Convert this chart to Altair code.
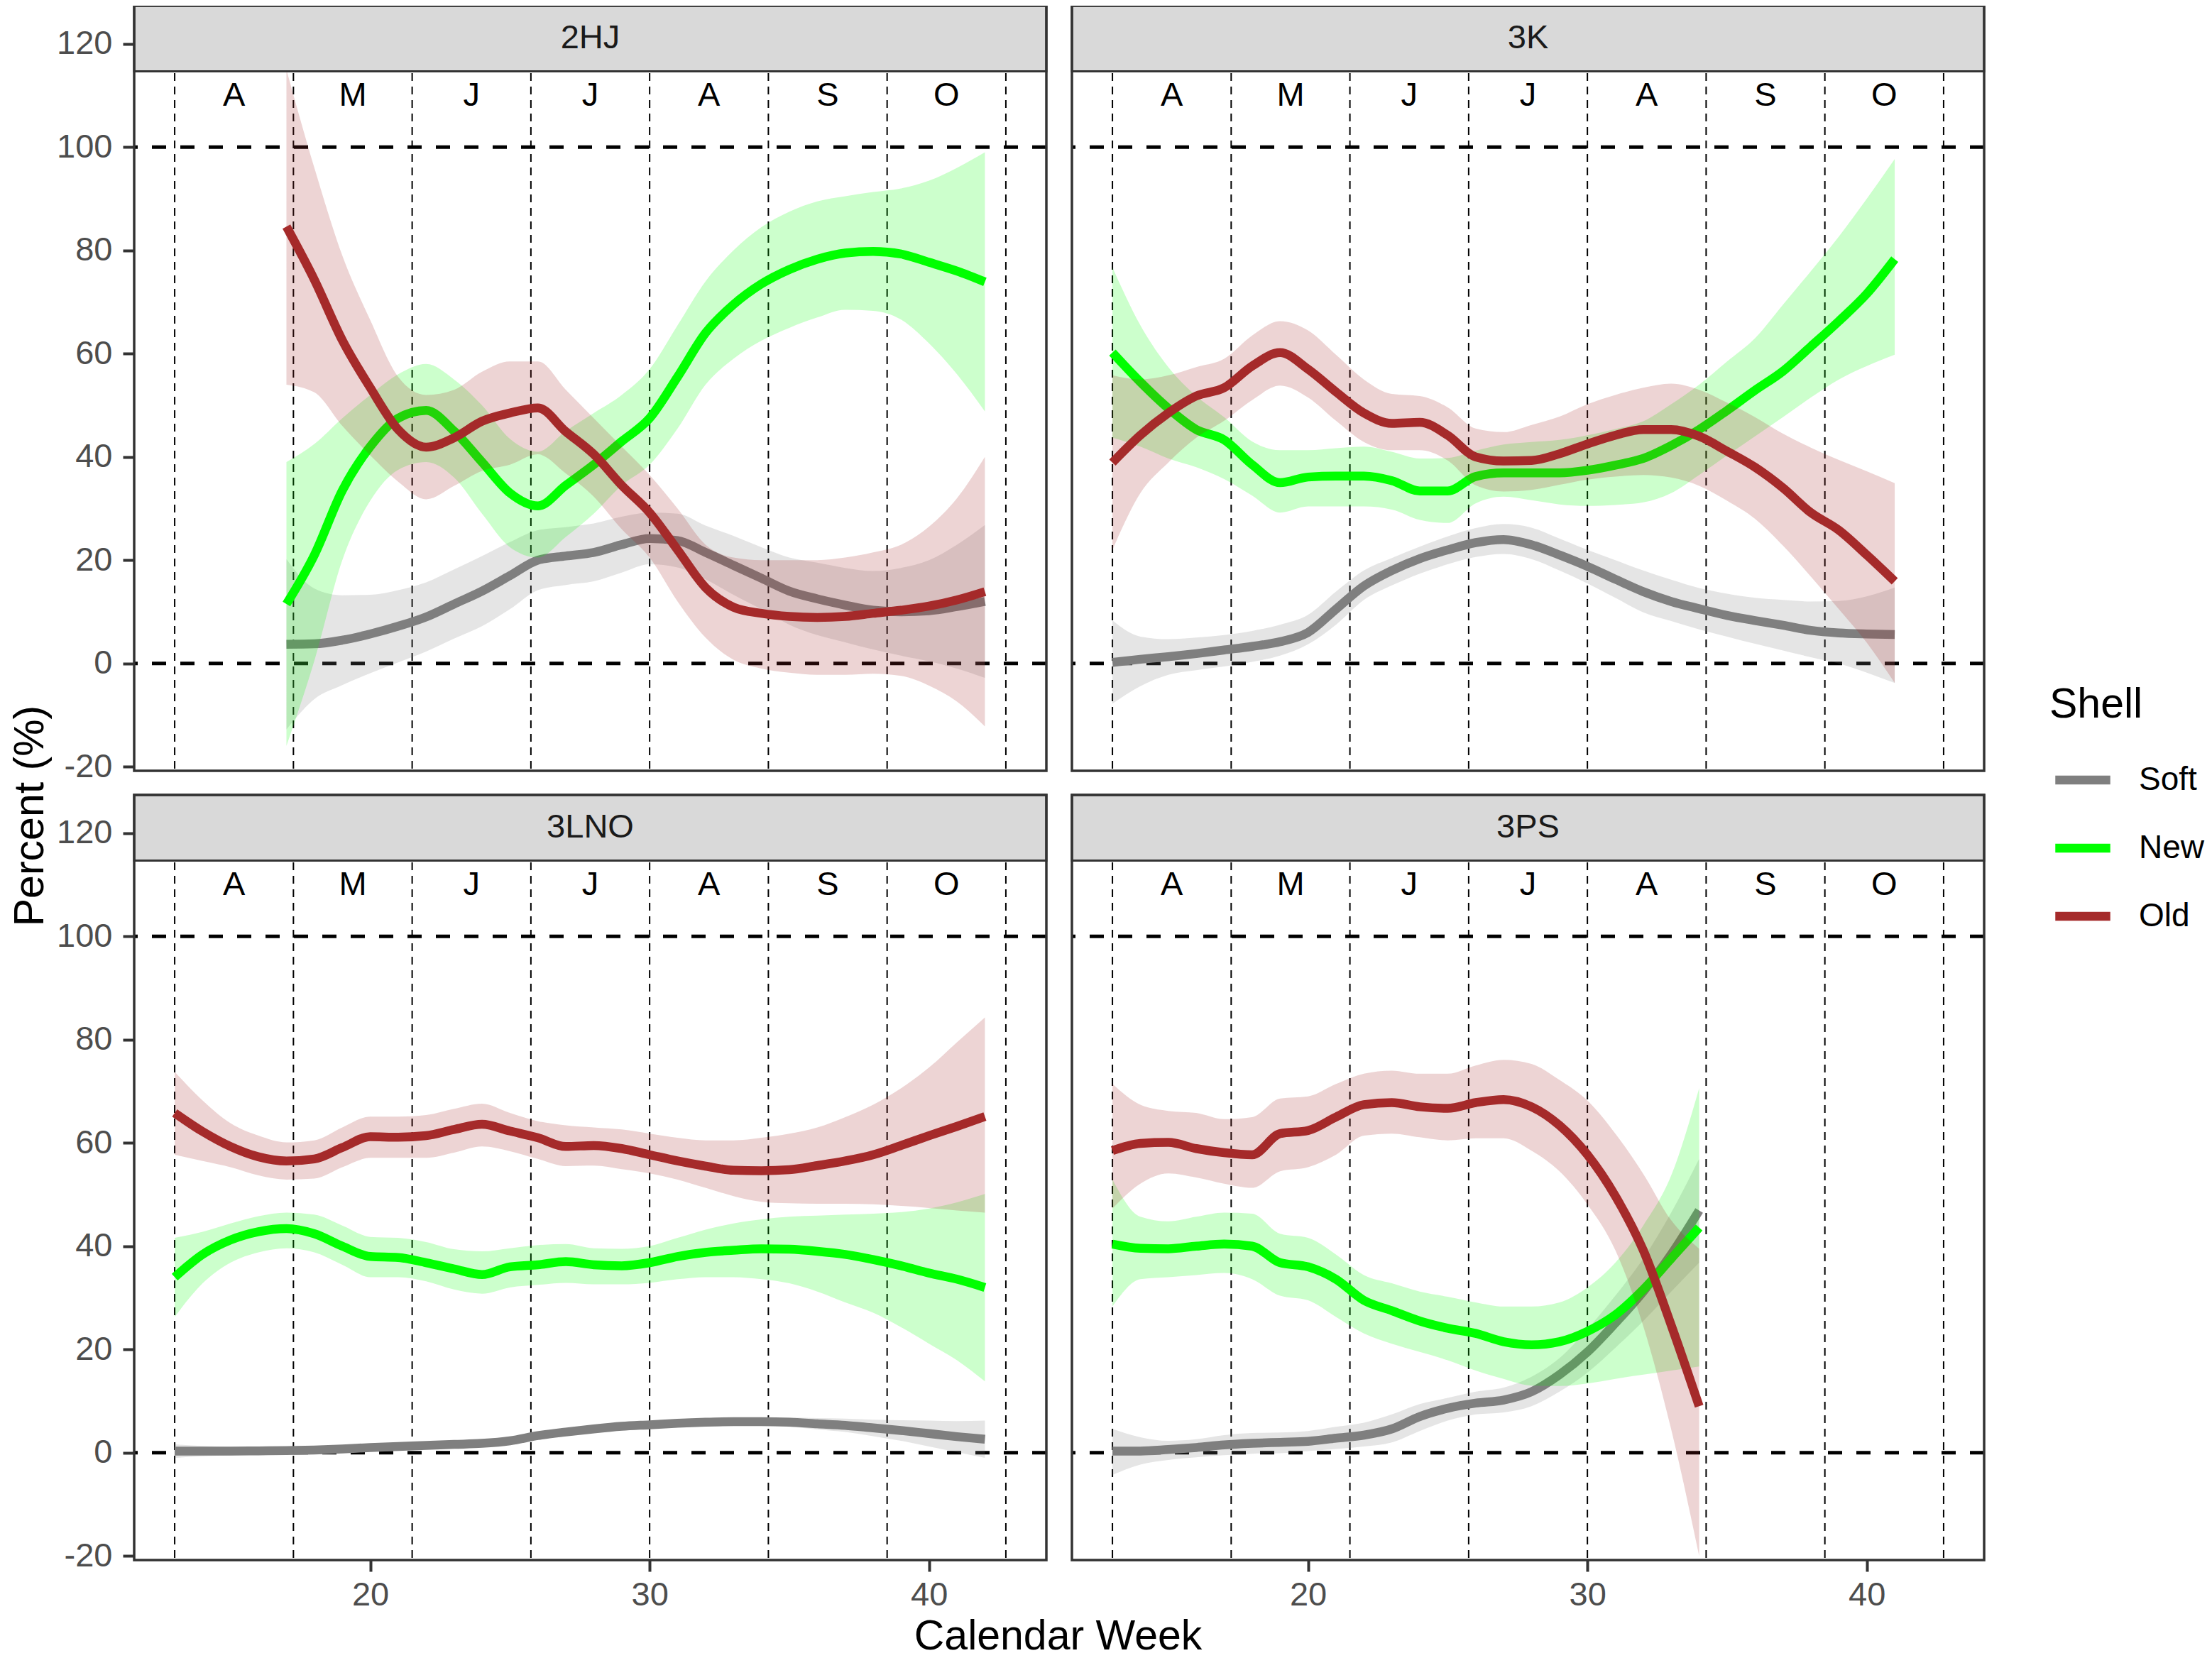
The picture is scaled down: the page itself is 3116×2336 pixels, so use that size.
import altair as alt
import pandas as pd

FONT = "Liberation Sans"

SHELLS = ["Soft", "New", "Old"]
SHELL_COLORS = ["#7F7F7F", "#00FF00", "#A52A2A"]
MONTH_LABELS = ["A", "M", "J", "J", "A", "S", "O"]
MONTH_EDGES = [13, 17.25, 21.5, 25.75, 30, 34.25, 38.5, 42.75]
X_TICKS = [20, 30, 40]
Y_TICKS = [-20, 0, 20, 40, 60, 80, 100, 120]
REF_LEVELS = [0, 100]

# ---------------- 2HJ ----------------
WEEKS_2HJ = list(range(17, 43))
SOFT_FIT_2HJ = [3.7, 3.8, 4.5, 5.7, 7.2, 9.0, 11.5, 14.0, 17.0, 20.0, 20.8, 21.5, 23.0, 24.2, 23.8, 21.5, 19.0, 16.5, 14.0, 12.5, 11.3, 10.3, 10.0, 10.2, 11.0, 12.0]
SOFT_LO_2HJ = [-12.8, -6.9, -4.2, -1.9, 0.2, 2.3, 4.8, 7.2, 10.5, 14.2, 15.2, 15.9, 17.6, 19.2, 18.6, 16.3, 13.3, 10.5, 7.5, 5.5, 4.1, 2.7, 1.5, 0.4, -1.0, -2.8]
SOFT_HI_2HJ = [20.2, 14.5, 13.2, 13.3, 14.2, 15.7, 18.2, 20.8, 23.5, 25.8, 26.4, 27.1, 28.4, 29.2, 29.0, 26.7, 24.7, 22.5, 20.5, 19.5, 18.5, 17.9, 18.5, 20.0, 23.0, 26.8]
NEW_FIT_2HJ = [11.5, 21.0, 33.5, 42.0, 47.5, 49.0, 45.0, 39.0, 33.0, 30.5, 34.5, 38.5, 43.0, 47.5, 55.5, 64.0, 69.5, 73.5, 76.3, 78.3, 79.5, 79.8, 79.3, 77.7, 76.0, 73.9]
NEW_LO_2HJ = [-16.0, 0.5, 20.0, 31.5, 37.5, 39.0, 36.0, 29.0, 22.5, 20.5, 24.5, 29.0, 34.5, 38.5, 45.5, 54.0, 59.0, 62.5, 65.0, 67.0, 68.5, 68.3, 66.6, 62.0, 56.0, 48.8]
NEW_HI_2HJ = [39.0, 42.5, 47.5, 52.0, 56.0, 58.0, 55.0, 50.0, 43.5, 41.0, 45.0, 48.5, 52.0, 57.0, 65.5, 74.0, 80.0, 84.5, 87.5, 89.5, 90.5, 91.3, 92.0, 93.5, 96.0, 99.0]
OLD_FIT_2HJ = [84.6, 74.3, 62.6, 53.4, 45.3, 41.9, 43.7, 46.9, 48.5, 49.5, 44.9, 40.5, 34.5, 29.2, 22.0, 14.7, 10.9, 9.7, 9.1, 8.9, 9.1, 9.7, 10.3, 11.1, 12.3, 13.9]
OLD_LO_2HJ = [54.0, 52.5, 46.0, 40.3, 35.2, 31.8, 34.4, 37.3, 38.5, 40.5, 36.8, 32.3, 26.0, 20.5, 12.0, 5.0, 0.7, -1.0, -1.8, -2.2, -2.2, -2.0, -2.4, -4.3, -7.4, -12.2]
OLD_HI_2HJ = [115.0, 96.0, 79.0, 66.5, 55.5, 52.0, 53.0, 56.5, 58.5, 58.5, 53.0, 47.5, 42.0, 36.5, 30.0, 23.0, 20.5, 20.0, 20.0, 20.0, 20.5, 21.5, 23.0, 26.5, 32.0, 40.0]

# ---------------- 3K ----------------
WEEKS_3K = list(range(13, 42))
SOFT_FIT_3K = [0.2, 0.8, 1.3, 1.9, 2.6, 3.3, 4.2, 6.0, 10.5, 15.0, 18.0, 20.3, 22.0, 23.4, 24.0, 23.0, 21.0, 18.8, 16.3, 13.9, 12.0, 10.6, 9.3, 8.3, 7.4, 6.4, 5.9, 5.7, 5.6]
SOFT_LO_3K = [-7.8, -4.4, -2.2, -1.3, -0.6, 0.3, 1.5, 3.7, 7.5, 12.3, 15.1, 17.4, 19.2, 20.6, 21.2, 20.2, 18.0, 15.5, 12.7, 9.9, 8.2, 6.6, 5.2, 3.8, 2.5, 1.2, 0.0, -1.8, -3.8]
SOFT_HI_3K = [8.3, 5.2, 4.7, 5.0, 5.5, 6.3, 7.5, 9.4, 13.9, 18.0, 20.4, 22.6, 24.6, 26.2, 27.0, 26.3, 24.2, 22.0, 20.0, 18.0, 16.2, 14.6, 13.5, 12.7, 12.3, 12.0, 12.1, 13.0, 14.7]
NEW_FIT_3K = [60.2, 54.5, 49.4, 45.3, 43.3, 38.5, 35.0, 36.1, 36.3, 36.3, 35.4, 33.4, 33.4, 36.2, 36.9, 36.9, 36.9, 37.4, 38.4, 39.7, 42.2, 45.3, 49.0, 52.9, 56.6, 61.4, 66.3, 71.6, 78.3]
NEW_LO_3K = [43.7, 42.0, 39.7, 38.0, 35.7, 32.5, 29.2, 30.4, 30.4, 30.4, 29.8, 27.8, 27.2, 31.0, 32.3, 31.6, 30.8, 30.5, 30.7, 31.2, 33.0, 36.5, 40.3, 44.0, 47.7, 51.5, 55.0, 57.6, 59.8]
NEW_HI_3K = [76.7, 65.5, 57.4, 51.8, 47.7, 43.0, 41.3, 41.3, 41.7, 42.0, 41.0, 39.7, 39.8, 41.2, 42.4, 42.9, 43.3, 44.2, 45.4, 46.9, 50.2, 54.0, 58.5, 63.0, 69.5, 76.0, 82.7, 90.0, 97.7]
OLD_FIT_3K = [38.9, 44.2, 48.5, 51.8, 53.4, 57.6, 60.2, 57.0, 52.6, 48.5, 46.5, 46.7, 44.2, 40.0, 39.2, 39.3, 40.6, 42.5, 44.2, 45.3, 45.3, 44.0, 41.1, 38.0, 34.0, 29.2, 25.8, 21.0, 15.9]
OLD_LO_3K = [22.0, 33.0, 38.9, 43.7, 47.0, 51.0, 53.8, 51.5, 47.0, 42.9, 41.3, 41.3, 39.3, 34.5, 33.3, 33.6, 34.6, 35.6, 36.2, 36.5, 36.0, 34.4, 31.5, 28.0, 22.8, 16.8, 10.5, 4.0, -3.8]
OLD_HI_3K = [55.8, 55.0, 55.8, 57.4, 59.0, 63.5, 66.3, 64.5, 59.8, 55.0, 52.2, 51.8, 49.6, 45.5, 44.8, 46.2, 47.8, 50.2, 52.0, 53.4, 54.2, 53.0, 50.5, 47.7, 44.5, 41.8, 39.4, 37.2, 34.9]

# ---------------- 3LNO ----------------
WEEKS_3LNO = list(range(13, 43))
SOFT_FIT_3LNO = [0.3, 0.3, 0.3, 0.35, 0.4, 0.5, 0.7, 1.0, 1.2, 1.4, 1.6, 1.8, 2.3, 3.3, 4.0, 4.6, 5.1, 5.4, 5.7, 5.9, 6.0, 6.0, 5.9, 5.6, 5.3, 4.8, 4.3, 3.7, 3.1, 2.6]
SOFT_LO_3LNO = [-1.0, -0.7, -0.5, -0.35, -0.2, -0.1, 0.1, 0.4, 0.6, 0.8, 1.0, 1.2, 1.7, 2.7, 3.4, 4.0, 4.5, 4.7, 4.9, 5.1, 5.2, 5.2, 5.0, 4.5, 4.0, 3.2, 2.3, 1.2, 0.1, -1.0]
SOFT_HI_3LNO = [1.6, 1.3, 1.1, 1.05, 1.0, 1.1, 1.3, 1.6, 1.8, 2.0, 2.2, 2.4, 2.9, 3.9, 4.6, 5.2, 5.7, 6.1, 6.5, 6.7, 6.8, 6.8, 6.8, 6.7, 6.6, 6.4, 6.3, 6.2, 6.1, 6.2]
NEW_FIT_3LNO = [34.0, 38.4, 41.2, 42.8, 43.4, 42.4, 40.0, 38.0, 37.8, 36.8, 35.6, 34.5, 36.0, 36.4, 37.0, 36.4, 36.2, 36.8, 38.0, 38.8, 39.2, 39.5, 39.4, 39.0, 38.4, 37.4, 36.2, 34.8, 33.6, 32.0]
NEW_LO_3LNO = [26.3, 32.8, 36.8, 38.8, 39.6, 38.8, 36.4, 34.0, 34.0, 33.2, 31.6, 30.8, 32.0, 32.5, 32.9, 32.6, 32.6, 32.9, 33.6, 34.0, 34.0, 33.6, 32.8, 31.2, 29.1, 27.1, 24.3, 21.1, 17.9, 13.8]
NEW_HI_3LNO = [41.6, 42.8, 44.4, 45.8, 46.5, 46.1, 44.0, 41.8, 41.6, 40.8, 39.4, 39.0, 39.6, 40.2, 40.4, 39.6, 39.5, 40.0, 41.6, 43.2, 44.4, 45.2, 45.7, 45.9, 46.1, 46.3, 46.6, 47.3, 48.5, 50.1]
OLD_FIT_3LNO = [65.8, 62.2, 59.3, 57.3, 56.5, 56.9, 59.1, 61.2, 61.1, 61.4, 62.6, 63.6, 62.3, 61.0, 59.3, 59.5, 58.9, 57.7, 56.5, 55.5, 54.7, 54.6, 54.8, 55.6, 56.5, 57.7, 59.5, 61.4, 63.2, 65.1]
OLD_LO_3LNO = [57.7, 56.5, 55.3, 53.7, 52.9, 53.1, 55.3, 57.1, 57.1, 57.1, 58.1, 59.3, 58.4, 56.9, 55.5, 55.6, 54.9, 54.1, 52.9, 51.3, 49.7, 48.6, 48.3, 48.2, 48.2, 48.1, 47.8, 47.4, 46.9, 46.5]
OLD_HI_3LNO = [73.8, 68.2, 63.8, 61.4, 60.1, 60.5, 63.0, 65.1, 65.1, 65.4, 66.6, 67.6, 65.8, 64.2, 63.4, 63.0, 62.6, 61.8, 61.0, 60.5, 60.5, 61.0, 61.8, 63.0, 65.0, 67.4, 70.6, 74.6, 79.5, 84.3]

# ---------------- 3PS ----------------
WEEKS_3PS = list(range(13, 35))
SOFT_FIT_3PS = [0.3, 0.3, 0.6, 1.0, 1.5, 1.8, 2.0, 2.2, 2.8, 3.4, 4.6, 7.0, 8.6, 9.6, 10.2, 11.8, 15.1, 19.5, 25.1, 31.2, 38.4, 46.9]
SOFT_LO_3PS = [-4.3, -2.3, -1.4, -0.9, -0.5, -0.2, -0.1, 0.3, 0.7, 1.2, 2.0, 4.2, 6.2, 7.4, 7.8, 9.0, 11.8, 15.5, 20.3, 25.5, 31.2, 36.8]
SOFT_HI_3PS = [4.6, 3.0, 2.3, 2.6, 3.4, 3.8, 3.9, 4.2, 5.0, 5.8, 7.4, 9.4, 10.6, 11.8, 12.6, 14.7, 18.3, 23.9, 30.4, 37.6, 46.5, 56.9]
NEW_FIT_3PS = [40.4, 39.6, 39.5, 40.0, 40.4, 40.0, 36.8, 36.0, 33.6, 29.5, 27.5, 25.5, 24.1, 23.1, 21.5, 20.9, 21.5, 23.5, 26.7, 31.6, 37.6, 43.6]
NEW_LO_3PS = [28.3, 33.6, 34.0, 34.4, 34.8, 33.6, 30.4, 29.5, 26.3, 23.1, 21.1, 19.5, 17.9, 15.9, 14.3, 13.0, 12.9, 13.4, 14.3, 15.1, 15.9, 16.7]
NEW_HI_3PS = [52.9, 45.7, 44.8, 45.7, 46.5, 46.3, 42.4, 41.6, 38.4, 34.4, 32.8, 31.2, 30.2, 29.1, 28.3, 28.3, 29.1, 32.0, 36.8, 44.0, 53.7, 70.6]
OLD_FIT_3PS = [58.5, 59.9, 60.1, 58.9, 58.1, 57.7, 61.8, 62.4, 65.0, 67.4, 67.8, 67.0, 66.7, 67.8, 68.4, 67.0, 63.4, 57.7, 49.7, 39.2, 24.7, 9.0]
OLD_LO_3PS = [47.3, 52.1, 54.1, 53.3, 52.1, 51.3, 54.5, 55.3, 57.7, 61.4, 61.8, 61.1, 60.5, 60.9, 60.9, 58.5, 54.5, 48.1, 39.2, 24.5, 4.5, -20.0]
OLD_HI_3PS = [71.4, 67.4, 66.2, 65.8, 64.6, 65.0, 68.6, 69.0, 71.4, 73.4, 74.0, 73.4, 73.4, 75.0, 76.1, 75.3, 72.2, 68.2, 61.8, 54.0, 45.0, 39.5]

PANELS = {
    "2HJ": (WEEKS_2HJ, {"Soft": (SOFT_FIT_2HJ, SOFT_LO_2HJ, SOFT_HI_2HJ),
                        "New": (NEW_FIT_2HJ, NEW_LO_2HJ, NEW_HI_2HJ),
                        "Old": (OLD_FIT_2HJ, OLD_LO_2HJ, OLD_HI_2HJ)}),
    "3K": (WEEKS_3K, {"Soft": (SOFT_FIT_3K, SOFT_LO_3K, SOFT_HI_3K),
                      "New": (NEW_FIT_3K, NEW_LO_3K, NEW_HI_3K),
                      "Old": (OLD_FIT_3K, OLD_LO_3K, OLD_HI_3K)}),
    "3LNO": (WEEKS_3LNO, {"Soft": (SOFT_FIT_3LNO, SOFT_LO_3LNO, SOFT_HI_3LNO),
                          "New": (NEW_FIT_3LNO, NEW_LO_3LNO, NEW_HI_3LNO),
                          "Old": (OLD_FIT_3LNO, OLD_LO_3LNO, OLD_HI_3LNO)}),
    "3PS": (WEEKS_3PS, {"Soft": (SOFT_FIT_3PS, SOFT_LO_3PS, SOFT_HI_3PS),
                        "New": (NEW_FIT_3PS, NEW_LO_3PS, NEW_HI_3PS),
                        "Old": (OLD_FIT_3PS, OLD_LO_3PS, OLD_HI_3PS)}),
}

# ---------------- layout constants ----------------
XMIN, XMAX = 11.55, 44.2
YMIN, YMAX = -20.8, 127.4
STRIP_LO = 114.7
PW, PH = 1285, 1078
SMALL = 47
BIG = 59
LINE_W = 12.5

color_scale = alt.Scale(domain=SHELLS, range=SHELL_COLORS)
shell_legend = alt.Legend(
    orient="none", legendX=2698, legendY=956, padding=0,
    title="Shell", titleFont=FONT, titleFontSize=BIG, titleFontWeight="normal",
    titleColor="black", titlePadding=31,
    labelFont=FONT, labelFontSize=46, labelColor="black", labelOffset=34,
    symbolType="stroke", symbolStrokeWidth=LINE_W, symbolSize=6000, symbolOffset=2,
    rowPadding=26,
)


def make_panel(name, show_x, show_y, x_title=False, y_title=False):
    weeks, series = PANELS[name]
    xs = alt.Scale(domain=[XMIN, XMAX], nice=False, zero=False)
    ys = alt.Scale(domain=[YMIN, YMAX], nice=False, zero=False)

    common = dict(labelFont=FONT, labelFontSize=SMALL, labelColor="#4D4D4D",
                  tickColor="#333333", tickWidth=4, tickSize=16,
                  domain=False, grid=False, labelExpr="'' + datum.value")
    if show_x:
        if x_title:
            xa = alt.Axis(values=X_TICKS, labelPadding=10, title="Calendar Week",
                          titleFont=FONT, titleFontSize=BIG, titleFontWeight="normal",
                          titleColor="black", titleX=1301, titleY=125,
                          titleAlign="center", titleBaseline="alphabetic", **common)
        else:
            xa = alt.Axis(values=X_TICKS, labelPadding=10, title=None, **common)
    else:
        xa = None
    if show_y:
        if y_title:
            ya = alt.Axis(values=Y_TICKS, labelPadding=15, title="Percent (%)",
                          titleFont=FONT, titleFontSize=BIG, titleFontWeight="normal",
                          titleColor="black", titleX=-147, titleY=1141,
                          titleAlign="center", titleBaseline="middle", titleAngle=270,
                          **common)
        else:
            ya = alt.Axis(values=Y_TICKS, labelPadding=15, title=None, **common)
    else:
        ya = None

    def X(f):
        return alt.X(f"{f}:Q", scale=xs, axis=xa)

    def Y(f):
        return alt.Y(f"{f}:Q", scale=ys, axis=ya)

    layers = []
    vdf = pd.DataFrame({"week": MONTH_EDGES})
    layers.append(alt.Chart(vdf).mark_rule(color="black", strokeWidth=2, strokeDash=[11, 8])
                  .encode(x=X("week")))
    hdf = pd.DataFrame({"value": REF_LEVELS})
    layers.append(alt.Chart(hdf).mark_rule(color="black", strokeWidth=5, strokeDash=[20, 20])
                  .encode(y=Y("value")))

    for shell, col in zip(SHELLS, SHELL_COLORS):
        fit, lo, hi = series[shell]
        d = pd.DataFrame({"week": weeks, "fit": fit, "lo": lo, "hi": hi, "shell": shell})
        layers.append(alt.Chart(d).mark_area(color=col, opacity=0.2, interpolate="monotone", clip=True)
                      .encode(x=X("week"), y=Y("hi"), y2="lo"))
        layers.append(alt.Chart(d).mark_line(strokeWidth=LINE_W, interpolate="monotone", clip=True)
                      .encode(x=X("week"), y=Y("fit"),
                              color=alt.Color("shell:N", scale=color_scale, legend=shell_legend)))

    mids = [(MONTH_EDGES[i] + MONTH_EDGES[i + 1]) / 2 for i in range(len(MONTH_LABELS))]
    mdf = pd.DataFrame({"week": mids, "value": [110] * len(mids), "label": MONTH_LABELS})
    layers.append(alt.Chart(mdf).mark_text(font=FONT, fontSize=SMALL, color="black",
                                           baseline="middle", align="center")
                  .encode(x=X("week"), y=Y("value"), text="label:N"))

    sdf = pd.DataFrame({"week": [XMIN], "week2": [XMAX], "value": [STRIP_LO], "value2": [YMAX]})
    layers.append(alt.Chart(sdf).mark_rect(fill="#D9D9D9", stroke="#333333", strokeWidth=3)
                  .encode(x=X("week"), x2="week2", y=Y("value"), y2="value2"))
    tdf = pd.DataFrame({"week": [(XMIN + XMAX) / 2], "value": [(STRIP_LO + YMAX) / 2], "label": [name]})
    layers.append(alt.Chart(tdf).mark_text(font=FONT, fontSize=SMALL, color="#1A1A1A",
                                           baseline="middle", align="center")
                  .encode(x=X("week"), y=Y("value"), text="label:N"))

    bdf = pd.DataFrame({"week": [XMIN], "week2": [XMAX], "value": [YMIN], "value2": [YMAX]})
    layers.append(alt.Chart(bdf).mark_rect(fillOpacity=0, stroke="#333333", strokeWidth=3.5)
                  .encode(x=X("week"), x2="week2", y=Y("value"), y2="value2"))

    return alt.layer(*layers).properties(width=PW, height=PH)


p1 = make_panel("2HJ", show_x=False, show_y=True, y_title=True)
p2 = make_panel("3K", show_x=False, show_y=False)
p3 = make_panel("3LNO", show_x=True, show_y=True, x_title=True)
p4 = make_panel("3PS", show_x=True, show_y=False)

chart = (
    alt.concat(p1, p2, p3, p4, columns=2, spacing={"row": 34, "column": 36}, bounds="flush")
    .resolve_scale(color="shared")
    .properties(
        autosize=alt.AutoSizeParams(type="none"),
        padding={"left": 181, "top": 0, "right": 2919, "bottom": 2328},
        background="white",
    )
    .configure_view(stroke=None)
    .configure(font=FONT)
)

chart.save("out.html", embed_options={"renderer": "svg", "actions": False})
